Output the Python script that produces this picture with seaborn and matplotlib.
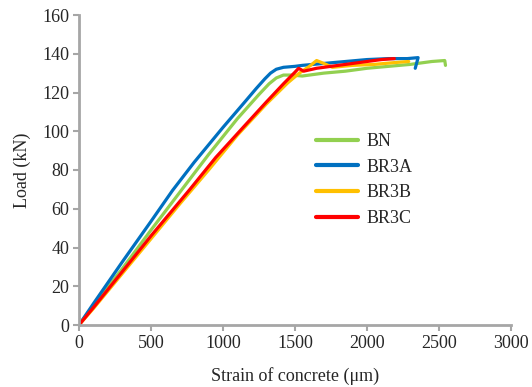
import pandas as pd
import seaborn as sns
import matplotlib.pyplot as plt

# load-strain readings per beam (strain in microstrain, load in kN)
bn_strain = [0, 100, 300, 500, 700, 900, 1100, 1250, 1320, 1370, 1420, 1480, 1550, 1700, 1850, 2000, 2150, 2300, 2450, 2540, 2545]
bn_load = [0, 10, 29, 49, 68.5, 88, 106.5, 119, 124.5, 127.5, 129, 129, 128.5, 130, 131, 132.5, 133.5, 134.5, 136, 136.5, 134]

br3a_strain = [0, 100, 300, 500, 650, 800, 1000, 1150, 1230, 1290, 1330, 1370, 1420, 1500, 1550, 1700, 1850, 2000, 2150, 2280, 2355, 2335]
br3a_load = [0, 11, 32.5, 53.5, 69.5, 84, 102, 115, 122, 127, 130, 132, 133, 133.5, 134, 135, 136, 137, 137.5, 137.5, 138, 132.5]

br3b_strain = [0, 100, 300, 500, 700, 900, 1100, 1300, 1450, 1530, 1600, 1650, 1700, 1760, 1900, 2050, 2200, 2290]
br3b_load = [0, 8.5, 26.5, 44.5, 62.5, 80, 98, 114, 125, 130, 133.5, 136.5, 135, 133, 134, 134.5, 135.5, 136]

br3c_strain = [0, 100, 300, 500, 770, 950, 1140, 1300, 1420, 1500, 1525, 1560, 1650, 1800, 1950, 2100, 2190]
br3c_load = [0, 9, 27.5, 46, 70, 86.5, 102, 115, 124.5, 130.5, 132.5, 131, 132.5, 134, 135.5, 137, 137.5]

beams = ['BN', 'BR3A', 'BR3B', 'BR3C']
colors = ['#92D050', '#0070C0', '#FFC000', '#FF0000']

frames = []
for name, s, l in zip(beams, [bn_strain, br3a_strain, br3b_strain, br3c_strain],
                      [bn_load, br3a_load, br3b_load, br3c_load]):
    frames.append(pd.DataFrame({'strain': s, 'load': l, 'beam': name}))
df = pd.concat(frames, ignore_index=True)

sns.set_style('white')
plt.rcParams['font.family'] = ['Liberation Serif', 'DejaVu Serif']

fig = plt.figure(figsize=(5.32, 3.87), dpi=100)
ax = fig.add_axes([79 / 532, 62 / 387, 432 / 532, 310 / 387])

sns.lineplot(data=df, x='strain', y='load', hue='beam', palette=dict(zip(beams, colors)),
             sort=False, estimator=None, linewidth=2.3, ax=ax)

ax.set_xlim(0, 3000)
ax.set_ylim(0, 160)
ax.set_xticks(range(0, 3001, 500))
ax.set_yticks(range(0, 161, 20))
ax.set_xlabel('Strain of concrete (μm)', fontsize=13, labelpad=11)
ax.set_ylabel('Load (kN)', fontsize=13, labelpad=8)
ax.tick_params(axis='both', labelsize=13, length=4, width=1.5, color='#A6A6A6',
               direction='out', bottom=True, left=True, pad=3)
sns.despine(ax=ax)
for side in ['left', 'bottom']:
    ax.spines[side].set_color('#A6A6A6')
    ax.spines[side].set_linewidth(2)

handles, labels = ax.get_legend_handles_labels()
ax.legend(handles, labels, frameon=False, fontsize=13, loc='upper left',
          bbox_to_anchor=(316 / 532, 1 - 133 / 387), bbox_transform=fig.transFigure,
          borderaxespad=0, borderpad=0, handlelength=2.3, handletextpad=0.5,
          labelspacing=0.48)
for line in ax.get_legend().get_lines():
    line.set_linewidth(3)

plt.savefig('out.png', dpi=100)
plt.close()
